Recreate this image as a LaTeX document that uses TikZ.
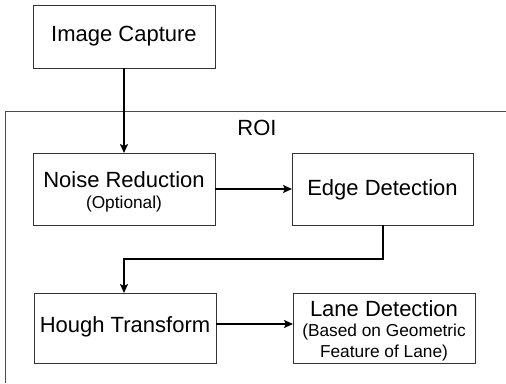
\documentclass[tikz,border=0pt]{standalone}
\usepackage{fontspec}
\setmainfont{Liberation Sans}
\usetikzlibrary{arrows.meta}
\begin{document}
\begin{tikzpicture}[x=1pt,y=-1pt,
  box/.style={draw=black!80,line width=0.8pt,fill=white},
  big/.style={font=\fontsize{22}{24}\selectfont},
  small/.style={font=\fontsize{17.3}{20}\selectfont},
  flow/.style={line width=1.8pt,-{Stealth[length=9pt,width=8pt,inset=2pt]}}]
\useasboundingbox (0,0) rectangle (506,383);
\fill[white] (0,0) rectangle (506,383);
% ROI frame
\draw[line width=0.8pt,black!70] (506,111) -- (5,111) -- (5,383);
\node[big] (roi) at (257,128) {ROI};
% boxes
\draw[box] (33,5) rectangle (215,68);
\node[big] (ic) at (124,36.5) {Image Capture};
\coordinate (icb) at (124,68);
\draw[box] (33,153) rectangle (215,225);
\node[big] (nr) at (124,180) {Noise Reduction};
\node[small] (opt) at (124,204) {(Optional)};
\coordinate (nrt) at (124,153);
\coordinate (nrr) at (215,189);
\draw[box] (292,153) rectangle (473,225);
\node[big] (ed) at (382.5,190) {Edge Detection};
\coordinate (edl) at (292,189);
\coordinate (edb) at (383,225);
\draw[box] (34,293) rectangle (216,363);
\node[big] (ht) at (125,327) {Hough Transform};
\coordinate (htt) at (124,293);
\coordinate (htr) at (216,324);
\draw[box] (293,293) rectangle (475,363);
\node[big] (ld) at (384,309) {Lane Detection};
\node[small] (ld2) at (384,332) {(Based on Geometric};
\node[small] (ld3) at (384,353.5) {Feature of Lane)};
\coordinate (ldl) at (293,324);
% connectors
\draw[flow] (icb) -- (nrt);
\draw[flow] (nrr) -- (edl);
\draw[flow] (edb) -- (383,259) -- (124,259) -- (htt);
\draw[flow] (htr) -- (ldl);
\end{tikzpicture}
\end{document}
